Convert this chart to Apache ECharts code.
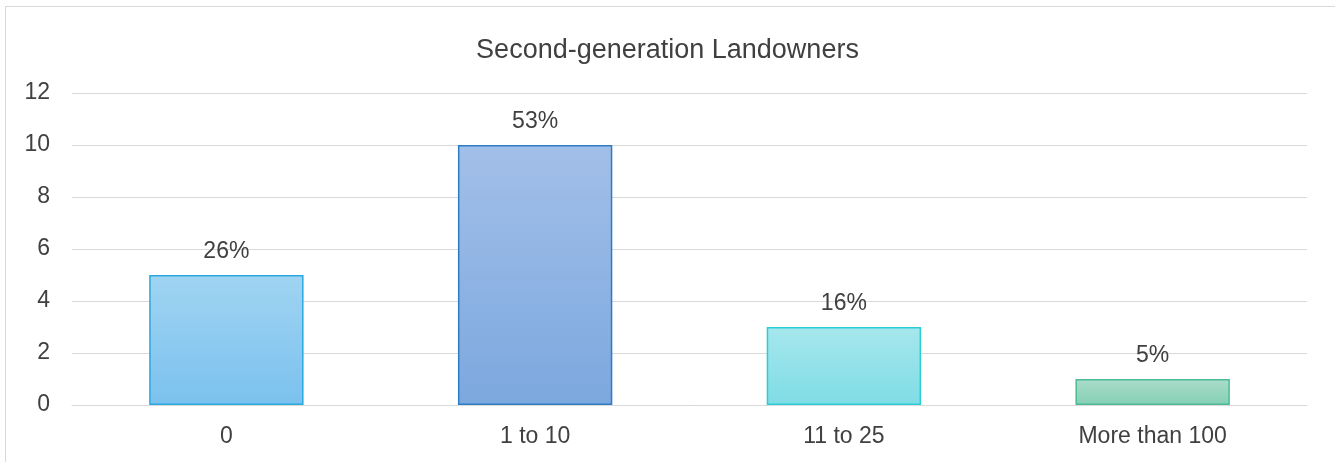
<!DOCTYPE html>
<html>
<head>
<meta charset="utf-8">
<script src="https://cdn.jsdelivr.net/npm/echarts@6/dist/echarts.min.js"></script>
<style>
    html, body { margin: 0; padding: 0; background: #fff; }
    #frame {
        position: absolute; left: 5px; top: 6px; width: 1340px; height: 470px;
        border-left: 1px solid #d9d9d9; border-top: 1px solid #d9d9d9;
    }
    #chart { position: absolute; left: 0; top: 0; width: 1335px; height: 462px; }
</style>
</head>
<body>
<div id="frame"></div>
<div id="chart"></div>
<script>
var categories = ['0', '1 to 10', '11 to 25', 'More than 100'];
var counts = [5, 10, 3, 1];
var shares = ['26%', '53%', '16%', '5%'];
var yTicks = { min: 0, max: 12, interval: 2 };

var fills = [
    ['#a0d4f2', '#7bc1ee', '#2aa9e0'],
    ['#a2bfe8', '#7ca8df', '#2e7cc3'],
    ['#a6e7ed', '#7fdce5', '#2ccdd5'],
    ['#aadcc9', '#84cfb5', '#4bbb95']
];

var font = "'Liberation Sans', Arial, sans-serif";

var chart = echarts.init(document.getElementById('chart'));

var data = counts.map(function(v, i) {
    return {
        value: v,
        itemStyle: {
            color: new echarts.graphic.LinearGradient(0, 0, 0, 1, [
                { offset: 0, color: fills[i][0] },
                { offset: 1, color: fills[i][1] }
            ]),
            borderColor: fills[i][2],
            borderWidth: 1.5
        },
        label: { formatter: shares[i] }
    };
});

chart.setOption({
    animation: false,
    title: {
        text: 'Second-generation Landowners',
        left: 'center',
        top: 32,
        textStyle: { fontFamily: font, fontSize: 27, fontWeight: 'normal', color: '#404040' }
    },
    grid: { left: 72, right: 28, top: 93, bottom: 57 },
    xAxis: {
        type: 'category',
        data: categories,
        axisLine: { lineStyle: { color: '#d9d9d9', width: 1 } },
        axisTick: { show: false },
        axisLabel: { fontFamily: font, fontSize: 23, color: '#404040', margin: 20 }
    },
    yAxis: {
        type: 'value',
        min: yTicks.min,
        max: yTicks.max,
        interval: yTicks.interval,
        axisLine: { show: false },
        axisTick: { show: false },
        splitLine: { lineStyle: { color: '#d9d9d9', width: 1.2 } },
        axisLabel: { fontFamily: font, fontSize: 23, color: '#404040', margin: 22 }
    },
    series: [{
        type: 'bar',
        data: data,
        barWidth: '50%',
        label: {
            show: true,
            position: 'top',
            distance: 12,
            fontFamily: font,
            fontSize: 23,
            color: '#404040'
        }
    }]
});
</script>
</body>
</html>
